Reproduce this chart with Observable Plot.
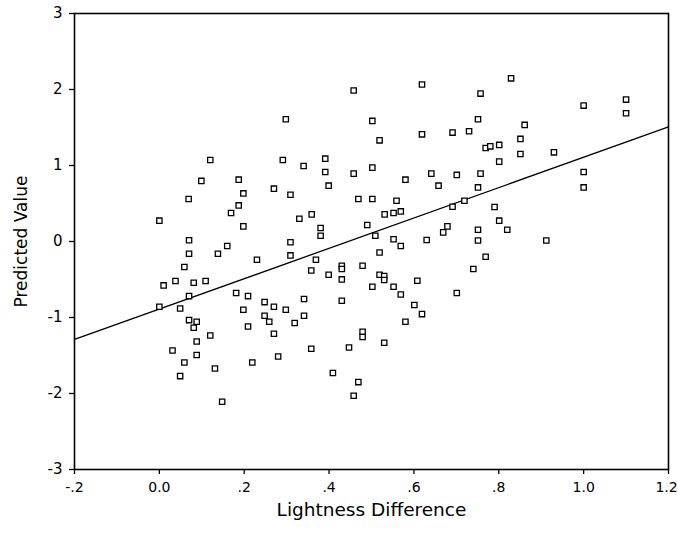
<!DOCTYPE html>
<html><head><meta charset="utf-8">
<script src="https://cdn.jsdelivr.net/npm/d3@7"></script>
<script src="https://cdn.jsdelivr.net/npm/@observablehq/plot@0.6"></script>
<style>
body{margin:0;background:#fff}
</style>
</head><body><div id="chart"></div>
<script>
const lightness = [0.298,0.120,0.291,0.099,0.187,0.270,0.069,0.198,0.309,0.187,0.169,0.000,0.330,0.198,0.340,0.359,
0.070,0.309,0.160,0.070,0.138,0.309,0.230,0.059,0.010,0.038,0.081,0.109,0.070,0.181,0.209,0.000,0.049,0.248,0.270,0.198,0.298,0.070,0.088,0.081,0.248,0.259,0.319,0.209,0.120,0.270,0.088,0.031,0.088,0.059,0.131,0.219,0.280,0.049,0.148,
0.458,0.619,0.502,0.519,0.619,0.691,0.391,0.391,0.458,0.502,0.580,0.641,0.701,0.399,0.658,0.469,0.502,0.559,0.380,0.380,0.531,0.552,0.569,0.691,0.490,0.509,0.552,0.630,0.679,0.669,
0.569,0.519,0.369,0.358,0.399,0.430,0.430,0.479,0.430,0.519,0.530,0.530,0.502,0.552,0.569,0.608,0.701,0.341,0.430,0.601,0.619,0.341,0.580,0.479,0.479,0.530,0.358,0.447,0.409,0.469,0.458,
0.829,0.757,0.751,0.730,0.861,1.000,1.100,1.100,0.851,0.769,0.780,0.801,0.851,0.930,0.801,0.757,0.751,1.000,1.000,0.719,0.790,0.801,0.820,0.751,0.751,0.912,0.769,0.740];
const predicted = [1.608,1.073,1.073,0.797,0.814,0.695,0.560,0.633,0.616,0.475,0.375,0.274,0.300,0.199,0.994,0.357,
0.017,-0.009,-0.059,-0.161,-0.161,-0.183,-0.240,-0.336,-0.578,-0.520,-0.542,-0.520,-0.718,-0.678,-0.718,-0.858,-0.881,-0.797,-0.858,-0.898,-0.898,-1.034,-1.056,-1.135,-0.977,-1.056,-1.073,-1.118,-1.236,-1.214,-1.315,-1.434,-1.494,-1.592,-1.671,-1.592,-1.513,-1.771,-2.109,
1.986,2.065,1.587,1.331,1.410,1.433,1.090,0.915,0.893,0.972,0.814,0.893,0.876,0.735,0.735,0.560,0.560,0.537,0.178,0.076,0.357,0.375,0.396,0.458,0.217,0.076,0.030,0.020,0.199,0.120,
-0.059,-0.144,-0.240,-0.381,-0.437,-0.319,-0.362,-0.319,-0.499,-0.437,-0.454,-0.507,-0.595,-0.595,-0.697,-0.516,-0.678,-0.757,-0.779,-0.836,-0.955,-0.977,-1.056,-1.188,-1.257,-1.332,-1.411,-1.394,-1.731,-1.850,-2.030,
2.147,1.946,1.608,1.450,1.534,1.788,1.867,1.687,1.350,1.231,1.252,1.271,1.152,1.173,1.051,0.893,0.712,0.915,0.712,0.537,0.454,0.274,0.155,0.155,0.014,0.014,-0.200,-0.362];

const xTicks = [-0.2, 0, 0.2, 0.4, 0.6, 0.8, 1.0, 1.2];
const xTickLabels = ["-.2", "0.0", ".2", ".4", ".6", ".8", "1.0", "1.2"];
const yTicks = [3, 2, 1, 0, -1, -2, -3];
const yTickLabels = ["3", "2", "1", "0", "-1", "-2", "-3"];
const xTitle = "Lightness Difference";
const yTitle = "Predicted Value";

// fitted regression line: predicted = intercept + slope * lightness
const fitIntercept = -0.889;
const fitSlope = 1.998;
const fitX = [-0.2, 1.2];

const points = lightness.map((x, i) => ({x, y: predicted[i]}));
const fitLine = fitX.map(x => ({x, y: fitIntercept + fitSlope * x}));

const lab = (ticks, labels) => d => {
  const i = ticks.findIndex(t => Math.abs(t - d) < 1e-9);
  return i < 0 ? "" : labels[i];
};

const chart = Plot.plot({
  width: 678,
  height: 550,
  marginLeft: 74,
  marginRight: 10,
  marginTop: 13,
  marginBottom: 81,
  style: {fontFamily: "'DejaVu Sans', sans-serif", fontSize: "14px", color: "#000", background: "#fff"},
  x: {domain: [-0.2, 1.2]},
  y: {domain: [-3, 3]},
  marks: [
    Plot.axisX({ticks: xTicks, tickFormat: lab(xTicks, xTickLabels), tickSize: 5, tickPadding: 8, label: null, stroke: "#000", fill: "#000", strokeWidth: 1.3}),
    Plot.axisY({ticks: yTicks, tickFormat: lab(yTicks, yTickLabels), tickSize: 5, tickPadding: 7, label: null, stroke: "#000", fill: "#000", strokeWidth: 1.3}),
    Plot.line(fitLine, {x: "x", y: "y", stroke: "#000", strokeWidth: 1.3}),
    Plot.dot(points, {x: "x", y: "y", symbol: "square", r: 3, fill: "#fff", stroke: "#000", strokeWidth: 1.3}),
    Plot.frame({stroke: "#000", strokeWidth: 1.6}),
    Plot.text([xTitle], {frameAnchor: "bottom", textAnchor: "middle", lineAnchor: "middle", dy: 41, fontSize: 18.5, fill: "#000"}),
    Plot.text([yTitle], {frameAnchor: "left", textAnchor: "middle", lineAnchor: "middle", dx: -53, rotate: -90, fontSize: 17, fill: "#000"})
  ]
});
const svg = d3.select(chart);
svg.selectAll('[aria-label="x-axis tick label"] text').style("font-size", "14px");
svg.selectAll('[aria-label="y-axis tick label"] text').style("font-size", "15px");
// keep the last x tick label inside the picture
svg.selectAll('[aria-label="x-axis tick label"] text').filter(function () { return this.textContent === "1.2"; }).attr("dx", -2);
document.getElementById("chart").appendChild(chart);
</script>
</body></html>
